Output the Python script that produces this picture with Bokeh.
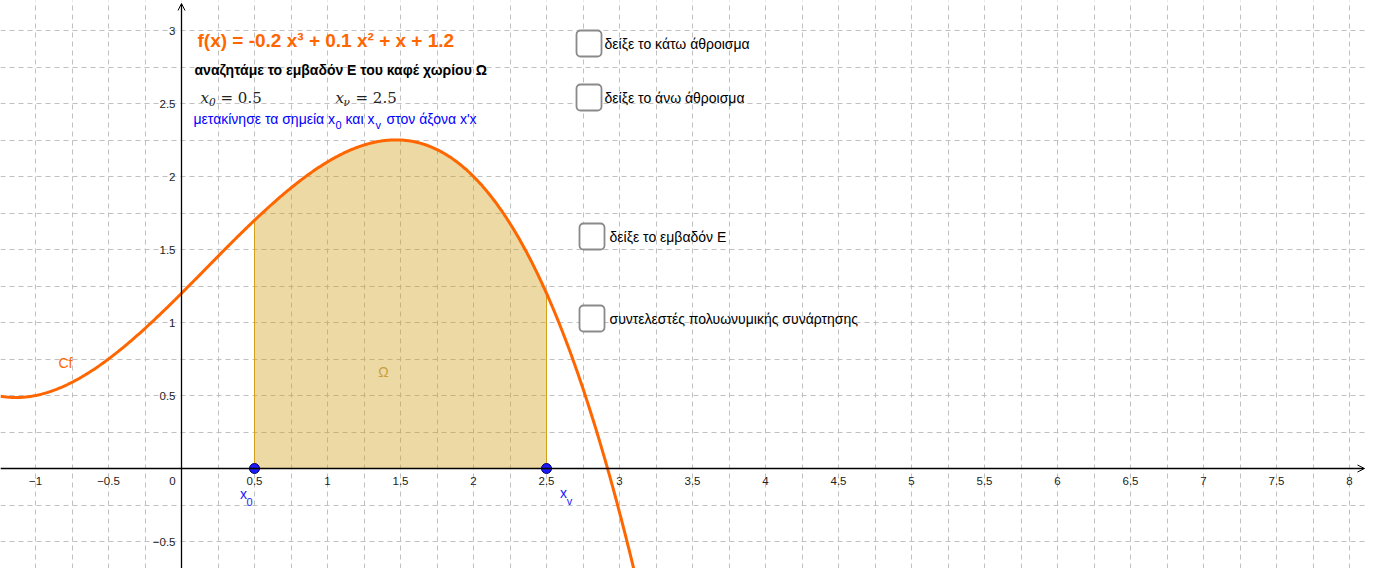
import numpy as np
from bokeh.plotting import figure
from bokeh.models import Range1d, Grid, FixedTicker, Arrow, OpenHead
from bokeh.core.properties import value
from bokeh.embed import file_html
from bokeh.resources import INLINE

# ---------------- data ----------------
coeffs = [-0.2, 0.1, 1.0, 1.2]          # f(x) = -0.2x^3 + 0.1x^2 + x + 1.2
x0_val = 0.5
xv_val = 2.5
x_tick_values = [-1, -0.5, 0, 0.5, 1, 1.5, 2, 2.5, 3, 3.5, 4, 4.5, 5, 5.5, 6, 6.5, 7, 7.5, 8]
x_tick_labels = ["−1", "−0.5", "0", "0.5", "1", "1.5", "2", "2.5", "3", "3.5", "4",
                 "4.5", "5", "5.5", "6", "6.5", "7", "7.5", "8"]
y_tick_values = [-0.5, 0.5, 1, 1.5, 2, 2.5, 3]
y_tick_labels = ["−0.5", "0.5", "1", "1.5", "2", "2.5", "3"]
grid_step = 0.25
checkbox_labels = ["δείξε το κάτω άθροισμα", "δείξε το άνω άθροισμα",
                   "δείξε το εμβαδόν Ε", "συντελεστές πολυωνυμικής συνάρτησης"]

# ---------------- geometry helpers (reference pixel -> data) ----------------
S = 146.0
OX, OY = 181.0, 468.0
def X(px): return (px - OX) / S
def Y(py): return (OY - py) / S

W, H = 1366, 568
SANS = value("Liberation Sans")
SERIF = value("DejaVu Serif")
ORANGE = "#ff6600"
GOLD = "#d2a019"
BLUE = "#1a1aff"

p = figure(width=W, height=H, output_backend="svg", toolbar_location=None,
           x_range=Range1d(X(0), X(W)), y_range=Range1d(Y(H), Y(0)),
           x_axis_type=None, y_axis_type=None, min_border=0,
           outline_line_color=None, background_fill_color="white")

gx = list(np.arange(-1.25, 8.5, grid_step))
gy = list(np.arange(-0.75, 3.5, grid_step))
for dim, ticks in ((0, gx), (1, gy)):
    p.add_layout(Grid(dimension=dim, ticker=FixedTicker(ticks=ticks),
                      grid_line_color="#c0c0c0", grid_line_dash="5 4",
                      grid_line_width=1))

# filled region Ω
xs_fill = np.linspace(x0_val, xv_val, 200)
ys_fill = np.polyval(coeffs, xs_fill)
px_ = np.concatenate([[x0_val], xs_fill, [xv_val]])
py_ = np.concatenate([[0], ys_fill, [0]])
p.patch(px_, py_, fill_color=GOLD, fill_alpha=0.4, line_color=GOLD, line_width=1)

# axes
p.add_layout(Arrow(end=OpenHead(size=7, line_width=1, line_color="black"),
                   x_start=X(0), y_start=0, x_end=X(W - 2), y_end=0,
                   line_color="black", line_width=1.3))
p.add_layout(Arrow(end=OpenHead(size=7, line_width=1, line_color="black"),
                   x_start=0, y_start=Y(H), x_end=0, y_end=Y(3),
                   line_color="black", line_width=1.3))

# tick labels
xl = [v for v in x_tick_values if v != 0]
xlab = [t for v, t in zip(x_tick_values, x_tick_labels) if v != 0]
p.text(x=xl, y=[0] * len(xl), text=xlab, text_font=SANS, text_font_size="11.5px",
       text_align="center", text_baseline="middle", y_offset=12, text_color="#222222")
p.text(x=[0], y=[0], text=["0"], text_font=SANS, text_font_size="11.5px",
       text_align="center", text_baseline="middle", x_offset=-9, y_offset=12,
       text_color="#222222")
p.text(x=[0] * len(y_tick_values), y=y_tick_values, text=y_tick_labels, text_font=SANS,
       text_font_size="11.5px", text_align="right", text_baseline="middle",
       x_offset=-6, text_color="#222222")

# curve
xs = np.linspace(X(0), 3.3, 600)
ys = np.polyval(coeffs, xs)
p.line(xs, ys, line_color=ORANGE, line_width=3)

# points
p.scatter([x0_val, xv_val], [0, 0], size=10, fill_color=BLUE, line_color="#000066",
          line_width=1)

# point labels
p.text(x=[x0_val, xv_val], y=[0, 0], text=["x", "x"], text_font=SANS, text_font_size="14px",
       text_color=BLUE, text_align="center", text_baseline="middle",
       x_offset=[-11, 17], y_offset=[25, 24])
p.text(x=[x0_val, xv_val], y=[0, 0], text=["0", "v"], text_font=SANS, text_font_size="11px",
       text_color=BLUE, text_align="center", text_baseline="middle",
       x_offset=[-5, 23], y_offset=[33, 32])

# curve label and region label
p.text(x=[X(65)], y=[Y(362)], text=["Cf"], text_font=SANS, text_font_size="14px",
       text_color=ORANGE, text_align="center", text_baseline="middle")
p.text(x=[X(383)], y=[Y(371)], text=["Ω"], text_font=SANS, text_font_size="14px",
       text_color="#c8a040", text_align="center", text_baseline="middle")

# headline texts
p.text(x=[X(197)], y=[Y(40)], text=["f(x) = -0.2 x³ + 0.1 x² + x + 1.2"], text_font=SANS,
       text_font_size="19px", text_font_style="bold", text_color=ORANGE,
       text_align="left", text_baseline="middle")
p.text(x=[X(194)], y=[Y(69)], text=["αναζητάμε το εμβαδόν Ε του καφέ χωρίου Ω"],
       text_font=SANS, text_font_size="14px", text_font_style="bold", text_color="black",
       text_align="left", text_baseline="middle")
# blue instruction with subscripts
p.text(x=[X(193), X(345), X(386)], y=[Y(118)] * 3,
       text=["μετακίνησε τα σημεία x", "και x", "στον άξονα x'x"],
       text_font=SANS, text_font_size="14px", text_color="#0000ff",
       text_align="left", text_baseline="middle")
p.text(x=[X(335), X(375)], y=[Y(124)] * 2, text=["0", "v"],
       text_font=SANS, text_font_size="11px", text_color="#0000ff",
       text_align="left", text_baseline="middle")

# math-style values
p.text(x=[X(200), X(335)], y=[Y(97), Y(97)], text=["x", "x"], text_font=SERIF,
       text_font_size="15px", text_font_style="italic", text_color="#222222",
       text_align="left", text_baseline="middle")
p.text(x=[X(208.5), X(343)], y=[Y(101), Y(101)], text=["0", "ν"], text_font=SERIF,
       text_font_size="10.5px", text_font_style="italic", text_color="#222222",
       text_align="left", text_baseline="middle")
p.text(x=[X(220), X(355)], y=[Y(97), Y(97)],
       text=[f"= {x0_val}", f"= {xv_val}"], text_font=SERIF,
       text_font_size="15px", text_color="#222222",
       text_align="left", text_baseline="middle")

# checkboxes
cb_left = [576, 576, 579, 579]
cb_center = [43, 97, 236, 318]
lbl_left = [604, 604, 609, 609]
p.quad(left=[X(v) for v in cb_left], right=[X(v + 25) for v in cb_left],
       top=[Y(c - 13) for c in cb_center], bottom=[Y(c + 13) for c in cb_center],
       fill_color="white", line_color="#8a8a8a", line_width=1.8, border_radius=4)
p.text(x=[X(v) for v in lbl_left], y=[Y(c) for c in cb_center], text=checkbox_labels,
       text_font=SANS, text_font_size="14px", text_color="black",
       text_align="left", text_baseline="middle")

open("out.html", "w").write(file_html(p, INLINE))
